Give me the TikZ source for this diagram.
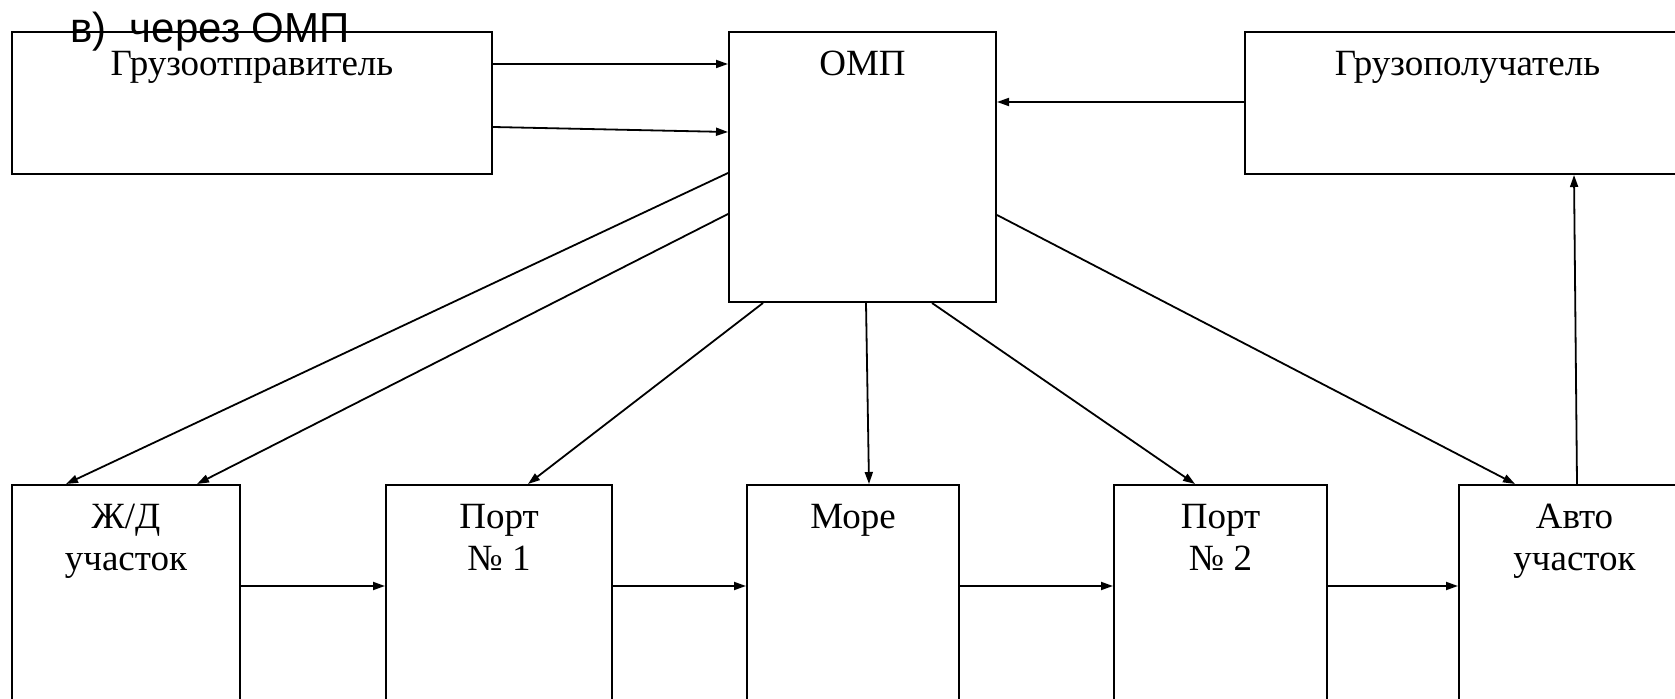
\documentclass[tikz,border=0pt]{standalone}
\usepackage{fontspec}
\setmainfont{Liberation Serif}
\newfontfamily\headfont{Liberation Sans}
\usetikzlibrary{arrows.meta, positioning, fit, calc}

\begin{document}
\begin{tikzpicture}[
    x=0.5pt, y=-0.5pt,
    block/.style = {rectangle, draw, line width=1pt, inner sep=0pt},
    lbl/.style = {inner sep=0pt, align=center, font=\fontsize{18.5}{21}\selectfont},
    heading/.style = {inner sep=0pt, anchor=base west, font=\headfont\fontsize{21}{24}\selectfont},
    link/.style = {-{Triangle[length=6pt, width=4pt]}, line width=0.9pt}
]
% Frame of the picture
\useasboundingbox (0,0) rectangle (1675,699);
\clip (0,0) rectangle (1675,699);
% Upper row
\node[block, fit={(12,32) (492,174)}] (sender) {};
\node[block, fit={(729,32) (996,302)}] (omp) {};
\node[block, fit={(1245,32) (1690,174)}] (receiver) {};
% Lower row
\node[block, fit={(12,485) (240,720)}] (rail) {};
\node[block, fit={(386,485) (612,720)}] (port1) {};
\node[block, fit={(747,485) (959,720)}] (sea) {};
\node[block, fit={(1114,485) (1327,720)}] (port2) {};
\node[block, fit={(1459,485) (1690,720)}] (auto) {};
% Texts in the boxes
\node[lbl, below=10pt of sender.north] (sender-txt) {Грузоотправитель};
\node[lbl, below=10pt of omp.north] (omp-txt) {ОМП};
\node[lbl, below=10pt of receiver.north] (receiver-txt) {Грузополучатель};
\node[lbl, below=10pt of rail.north] (rail-txt) {Ж/Д\\участок};
\node[lbl, below=10pt of port1.north] (port1-txt) {Порт\\№ 1};
\node[lbl, below=10pt of sea.north] (sea-txt) {Море};
\node[lbl, below=10pt of port2.north] (port2-txt) {Порт\\№ 2};
\node[lbl, below=10pt of auto.north] (auto-txt) {Авто\\участок};
% Heading
\node[heading] (title) at (70,43) {в)~ через ОМП};

% Links to and from the OMP
\draw[link] ($(sender.north east)+(0,33)$) -- ($(omp.north west)+(0,33)$);
\draw[link] ($(sender.north east)+(0,96)$) -- ($(omp.north west)+(0,101)$);
\draw[link] ($(receiver.north west)+(0,71)$) -- ($(omp.north east)+(0,71)$);
\draw[link] ($(omp.north west)+(0,142)$) -- ($(rail.north west)+(55,0)$);
\draw[link] ($(omp.north west)+(0,183)$) -- ($(rail.north west)+(186,0)$);
\draw[link] ($(omp.south west)+(35,0)$) -- ($(port1.north west)+(143,0)$);
\draw[link] ($(omp.south west)+(138,0)$) -- ($(sea.north west)+(123,0)$);
\draw[link] ($(omp.south west)+(204,0)$) -- ($(port2.north west)+(82,0)$);
\draw[link] ($(omp.north east)+(0,184)$) -- ($(auto.north west)+(57,0)$);
\draw[link] ($(auto.north west)+(119,0)$) -- ($(receiver.south west)+(330,0)$);
% Chain of the lower row
\foreach \a/\b in {rail/port1, port1/sea, sea/port2, port2/auto}
    \draw[link] ($(\a.north east)+(0,102)$) -- ($(\b.north west)+(0,102)$);
\end{tikzpicture}
\end{document}
